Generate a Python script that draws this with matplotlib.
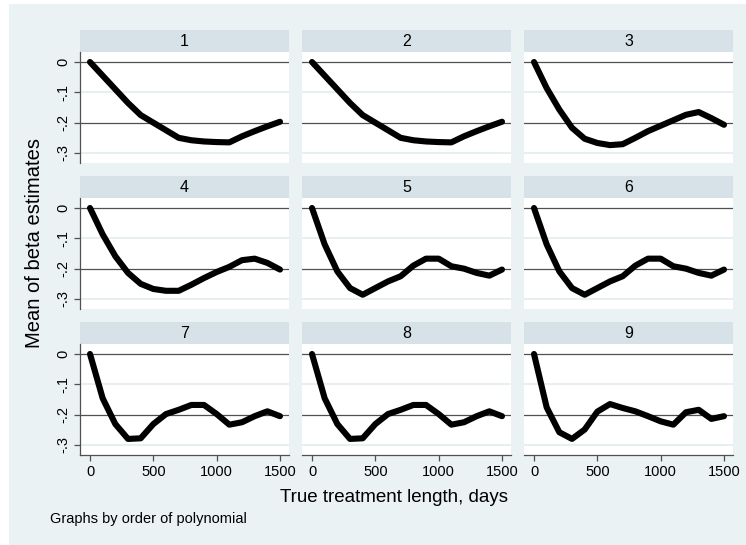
import matplotlib
matplotlib.use("Agg")
import matplotlib.pyplot as plt
from matplotlib.patches import Rectangle

plt.rcParams["font.family"] = ["Liberation Sans", "DejaVu Sans"]

# data: mean of beta estimates by true treatment length, one series per polynomial order
days = [0, 100, 200, 300, 400, 500, 600, 700, 800, 900, 1000, 1100, 1200, 1300, 1400, 1500]
order_1 = [0, -0.045, -0.09, -0.135, -0.175, -0.2, -0.225, -0.25, -0.258, -0.262,
           -0.264, -0.265, -0.245, -0.228, -0.212, -0.197]
order_2 = [0, -0.045, -0.09, -0.135, -0.175, -0.2, -0.225, -0.25, -0.258, -0.262,
           -0.264, -0.265, -0.245, -0.228, -0.212, -0.197]
order_3 = [0, -0.086, -0.157, -0.217, -0.253, -0.267, -0.274, -0.271, -0.25, -0.228,
           -0.21, -0.192, -0.174, -0.165, -0.185, -0.207]
order_4 = [0, -0.087, -0.159, -0.214, -0.25, -0.267, -0.273, -0.273, -0.253, -0.231,
           -0.211, -0.194, -0.172, -0.167, -0.181, -0.203]
order_5 = [0, -0.12, -0.209, -0.264, -0.286, -0.264, -0.242, -0.225, -0.19, -0.167,
           -0.167, -0.192, -0.2, -0.214, -0.223, -0.203]
order_6 = [0, -0.12, -0.209, -0.264, -0.286, -0.264, -0.242, -0.225, -0.19, -0.167,
           -0.167, -0.192, -0.2, -0.214, -0.223, -0.203]
order_7 = [0, -0.146, -0.231, -0.28, -0.278, -0.231, -0.198, -0.184, -0.168, -0.168,
           -0.198, -0.233, -0.225, -0.205, -0.189, -0.205]
order_8 = [0, -0.146, -0.231, -0.28, -0.278, -0.231, -0.198, -0.184, -0.168, -0.168,
           -0.198, -0.233, -0.225, -0.205, -0.189, -0.205]
order_9 = [0, -0.176, -0.258, -0.28, -0.249, -0.19, -0.165, -0.178, -0.189, -0.205,
           -0.222, -0.233, -0.192, -0.184, -0.214, -0.205]

panel_labels = ["1", "2", "3", "4", "5", "6", "7", "8", "9"]
series = [order_1, order_2, order_3, order_4, order_5, order_6, order_7, order_8, order_9]
y_ticks = [0, -0.1, -0.2, -0.3]
y_ticklabels = ["0", "-.1", "-.2", "-.3"]
x_ticks = [0, 500, 1000, 1500]
x_ticklabels = ["0", "500", "1000", "1500"]

W, H = 746, 545
BG = "#eaf2f3"
STRIP = "#d6e2e7"
DARK = "#505050"

fig = plt.figure(figsize=(W / 100, H / 100), dpi=100, facecolor="white")
fig.patches.append(Rectangle((9 / W, 0), 1 - 9 / W, 1 - 4 / H, transform=fig.transFigure,
                             facecolor=BG, edgecolor="none", zorder=-10))


def px_box(x0, y0, w, h):
    # pixel box (top-left origin) -> figure fraction
    return [x0 / W, 1 - (y0 + h) / H, w / W, h / H]


col_x = [80, 302, 524]
row_y = [52, 198, 344]
pw, ph, sh = 209, 111, 22

for i, (label, vals) in enumerate(zip(panel_labels, series)):
    r, c = divmod(i, 3)
    x0, y0 = col_x[c], row_y[r]

    fig.patches.append(Rectangle((x0 / W, 1 - y0 / H), pw / W, sh / H,
                                 transform=fig.transFigure, facecolor=STRIP,
                                 edgecolor="none", zorder=-5))
    fig.text((x0 + pw / 2) / W, 1 - (y0 - sh / 2) / H, label, ha="center",
             va="center", fontsize=11.5)

    ax = fig.add_axes(px_box(x0, y0, pw, ph))
    ax.set_facecolor("white")
    ax.set_xlim(-79, 1571)
    ax.set_ylim(-0.333, 0.033)

    for yv in y_ticks:
        dark = yv in (0, -0.2)
        ax.axhline(yv, color=DARK if dark else "#e6eef0", lw=0.9 if dark else 1.3, zorder=1)

    ax.plot(days, vals, color="black", lw=4.4, solid_joinstyle="round",
            solid_capstyle="round", zorder=3)

    for s in ax.spines.values():
        s.set_visible(False)

    if c == 0:
        ax.spines["left"].set_visible(True)
        ax.spines["left"].set_color(DARK)
        ax.spines["left"].set_linewidth(0.9)
        ax.set_yticks(y_ticks)
        ax.set_yticklabels(y_ticklabels, rotation=90, va="center", fontsize=10.5)
    else:
        ax.set_yticks([])

    if r == 2:
        ax.spines["bottom"].set_visible(True)
        ax.spines["bottom"].set_color(DARK)
        ax.spines["bottom"].set_linewidth(0.9)
        ax.set_xticks(x_ticks)
        ax.set_xticklabels(x_ticklabels, fontsize=10.5)
    else:
        ax.set_xticks([])

    ax.tick_params(length=4, width=0.9, color=DARK, pad=3)

fig.text(394 / W, 1 - 498 / H, "True treatment length, days", ha="center",
         va="center", fontsize=13.5)
fig.text(35 / W, 1 - 243 / H, "Mean of beta estimates", ha="center", va="center",
         rotation=90, fontsize=14.5)
fig.text(50 / W, 1 - 519 / H, "Graphs by order of polynomial", ha="left",
         va="center", fontsize=10.5)

fig.savefig("out.png", dpi=100, facecolor=fig.get_facecolor())
